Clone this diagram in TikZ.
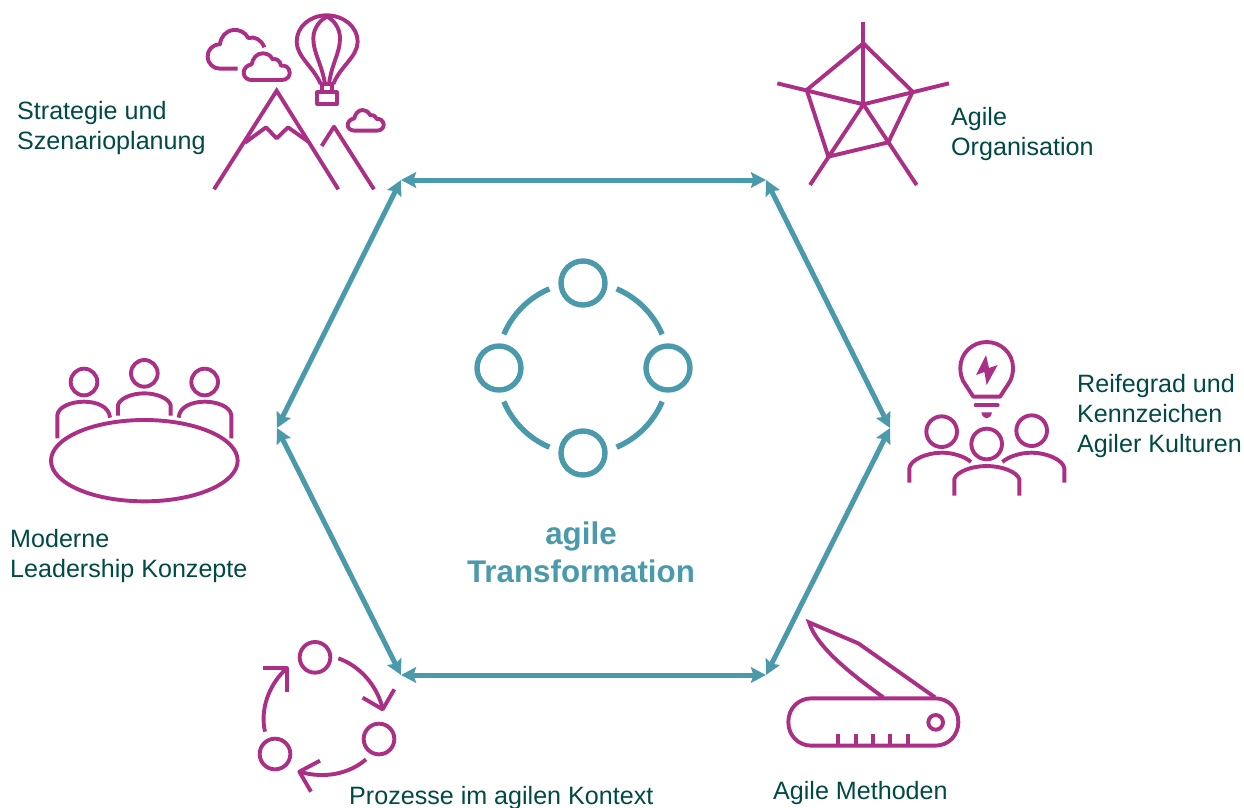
\documentclass[tikz,border=0pt]{standalone}
\usepackage{fontspec}
\setmainfont{Liberation Sans}
\usetikzlibrary{arrows.meta}
\definecolor{tealc}{HTML}{4A9AAC}
\definecolor{magc}{HTML}{AA2F85}
\definecolor{darkg}{HTML}{004A45}
\tikzset{
  hexarrow/.style={draw=tealc,line width=5pt,{Stealth[length=15pt,width=15.5pt,inset=2.5pt]}-{Stealth[length=15pt,width=15.5pt,inset=2.5pt]}},
  icon/.style={draw=magc,line width=3.9pt,line join=round,fill=none},
  ring/.style={draw=tealc,line width=5.4pt,fill=none},
  lab/.style={text=darkg,font=\fontsize{25.1}{30}\selectfont,align=left,anchor=west,inner sep=0pt},
  titlelab/.style={text=tealc,font=\fontsize{31.3}{38}\selectfont\bfseries,align=center,inner sep=0pt},
  zoomed/.style={shift={#1},x=0.33333pt,y=-0.33333pt}
}
\begin{document}
\begin{tikzpicture}[x=1pt,y=-1pt]
\useasboundingbox (0,0) rectangle (1244,807);
% hexagon
\coordinate (tl) at (401,180);
\coordinate (tr) at (766,180);
\coordinate (rr) at (890,428);
\coordinate (br) at (766,675);
\coordinate (bl) at (401,675);
\coordinate (ll) at (277,428);
\draw[hexarrow] (tl) -- (tr);
\draw[hexarrow] (tr) -- (rr);
\draw[hexarrow] (rr) -- (br);
\draw[hexarrow] (br) -- (bl);
\draw[hexarrow] (bl) -- (ll);
\draw[hexarrow] (ll) -- (tl);
% centre icon
\node[circle,ring,minimum size=44pt,inner sep=0pt] (cT) at (583,283) {};
\node[circle,ring,minimum size=44pt,inner sep=0pt] (cL) at (499,368) {};
\node[circle,ring,minimum size=44pt,inner sep=0pt] (cR) at (668,368) {};
\node[circle,ring,minimum size=44pt,inner sep=0pt] (cB) at (583,453) {};
\begin{scope}[shift={(583,368)},x=1pt,y=1pt]
\draw[ring] (23:86) arc (23:67:86);
\draw[ring] (113:86) arc (113:157:86);
\draw[ring] (203:86) arc (203:247:86);
\draw[ring] (293:86) arc (293:337:86);
\end{scope}
\node[titlelab] (title) at (581,552) {agile\\Transformation};
% labels
\node[lab] (l1) at (17,128) {Strategie und\\Szenarioplanung};
\node[lab] (l2) at (951,134) {Agile\\Organisation};
\node[lab] (l3) at (1077,416) {Reifegrad und\\Kennzeichen\\Agiler Kulturen};
\node[lab] (l4) at (773,793) {Agile Methoden};
\node[lab] (l5) at (349,798) {Prozesse im agilen Kontext};
\node[lab] (l6) at (10,556) {Moderne\\Leadership Konzepte};
% mountains
\begin{scope}[zoomed={(200,0)}]
\draw[icon,line join=miter] (42,568) -- (230,272) -- (415,568);
\draw[icon] (135,428) -- (198,382) -- (230,415) -- (264,382) -- (325,425);
\draw[icon] (365,438) -- (402,380) -- (522,568);
\draw[icon] (362,252) .. controls (340,200) and (290,170) .. (290,125) .. controls (290,80) and (330,46) .. (380,46) .. controls (430,46) and (473,80) .. (473,125) .. controls (473,170) and (420,200) .. (400,252);
\draw[icon] (375,252) .. controls (365,190) and (340,160) .. (340,115) .. controls (340,85) and (360,60) .. (381,50) .. controls (402,60) and (420,85) .. (420,115) .. controls (420,160) and (395,190) .. (387,252);
\draw[icon] (362,252) -- (400,252);
\draw[icon] (365,252) -- (365,278);
\draw[icon] (396,252) -- (396,278);
\draw[icon] (352,277) rectangle (410,312);
\draw[icon] (193,142) .. controls (185,120) and (165,108) .. (145,114) .. controls (135,95) and (115,88) .. (100,90) .. controls (78,92) and (62,110) .. (60,133) .. controls (38,133) and (22,150) .. (23,170) .. controls (24,192) and (40,206) .. (60,206) -- (113,206);
\draw[icon] (155,240) -- (245,240) .. controls (262,240) and (270,228) .. (269,218) .. controls (268,203) and (258,195) .. (243,197) .. controls (240,180) and (228,175) .. (218,178) .. controls (212,165) and (200,160) .. (188,160) .. controls (170,160) and (158,175) .. (155,193) .. controls (142,195) and (131,205) .. (131,218) .. controls (131,232) and (142,240) .. (155,240) -- cycle;
\draw[icon] (465,392) -- (530,392) .. controls (545,392) and (552,382) .. (551,373) .. controls (550,362) and (540,355) .. (530,357) .. controls (525,347) and (518,343) .. (510,345) .. controls (505,335) and (497,330) .. (488,330) .. controls (475,330) and (465,342) .. (463,355) .. controls (452,357) and (443,365) .. (443,375) .. controls (443,385) and (452,392) .. (465,392) -- cycle;
\end{scope}
% radar
\begin{scope}[zoomed={(760,10)}]
\draw[icon] (310,100) -- (458,245) -- (385,397) -- (205,440) -- (140,240) -- cycle;
\draw[icon,line cap=butt] (310,35) -- (310,283);
\draw[icon] (52,220) -- (310,283) -- (567,220);
\draw[icon] (150,525) -- (310,283) -- (470,525);
\end{scope}
% bulb and people
\begin{scope}[zoomed={(890,330)}]
\draw[icon] (250,200) -- (330,200) -- (353,165) .. controls (366,148) and (369,130) .. (369,113) .. controls (369,70) and (333,36) .. (290,36) .. controls (247,36) and (211,70) .. (211,113) .. controls (211,130) and (214,148) .. (227,165) -- cycle;
\draw[icon,line cap=round] (257,226) -- (323,226);
\fill[magc] (274,247) -- (306,247) .. controls (304,260) and (295,265) .. (290,265) .. controls (285,265) and (276,260) .. (274,247) -- cycle;
\fill[magc] (288,75) -- (258,135) -- (283,126) -- (290,165) -- (323,105) -- (297,114) -- cycle;
\draw[icon] (155,305) circle[radius=46];
\draw[icon] (290,342) circle[radius=46];
\draw[icon] (425,302) circle[radius=46];
\draw[icon] (58,458) -- (58,415) .. controls (60,390) and (110,368) .. (155,368) .. controls (190,368) and (225,380) .. (243,396);
\draw[icon] (193,497) -- (193,447) .. controls (200,425) and (245,408) .. (290,408) .. controls (335,408) and (380,425) .. (388,447) -- (388,497);
\draw[icon] (337,396) .. controls (355,380) and (390,368) .. (425,368) .. controls (470,368) and (520,390) .. (523,415) -- (523,458);
\end{scope}
% knife
\begin{scope}[zoomed={(770,610)}]
\draw[icon] (125,265) -- (495,265) .. controls (535,265) and (565,295) .. (565,336) .. controls (565,377) and (535,407) .. (495,407) -- (125,407) .. controls (85,407) and (55,377) .. (55,336) .. controls (55,295) and (85,265) .. (125,265) -- cycle;
\draw[icon] (497,337) circle[radius=22];
\foreach \tx in {205,257,309,361,413} {\draw[icon] (\tx,372) -- (\tx,405);}
\draw[icon,line join=miter] (495,262) -- (265,100) -- (117,37) .. controls (140,110) and (240,190) .. (340,262);
\end{scope}
% process
\begin{scope}[zoomed={(240,630)}]
\draw[icon] (225,82) circle[radius=46];
\draw[icon] (417,327) circle[radius=46];
\draw[icon] (105,372) circle[radius=46];
\draw[icon] (295,85) .. controls (360,108) and (410,165) .. (428,235);
\draw[icon] (368,203) -- (428,238) -- (463,178);
\draw[icon] (378,388) .. controls (330,430) and (255,448) .. (178,425);
\draw[icon] (240,392) -- (178,425) -- (213,485);
\draw[icon] (75,305) .. controls (60,240) and (85,165) .. (140,115);
\draw[icon] (70,115) -- (140,115) -- (140,185);
\end{scope}
% table
\begin{scope}[zoomed={(40,350)}]
\draw[icon] (313,332) ellipse[x radius=280,y radius=122];
\draw[icon] (132,96) circle[radius=40];
\draw[icon] (313,70) circle[radius=40];
\draw[icon] (494,96) circle[radius=40];
\draw[icon] (52,265) -- (52,195) .. controls (55,170) and (95,155) .. (132,155) .. controls (170,155) and (208,170) .. (210,203);
\draw[icon] (234,197) -- (234,165) .. controls (240,145) and (275,130) .. (313,130) .. controls (350,130) and (386,145) .. (392,165) -- (392,197);
\draw[icon] (416,203) .. controls (418,170) and (456,155) .. (494,155) .. controls (531,155) and (571,170) .. (574,195) -- (574,265);
\end{scope}
\end{tikzpicture}
\end{document}
